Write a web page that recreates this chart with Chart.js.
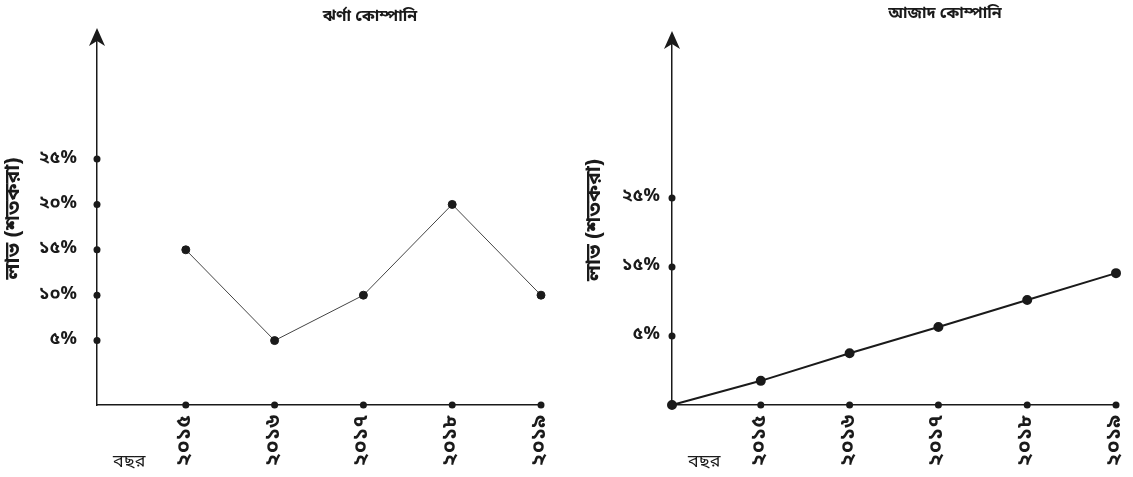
<!DOCTYPE html>
<html>
<head>
<meta charset="utf-8">
<script src="https://cdn.jsdelivr.net/npm/chart.js@4"></script>
<style>
  body { margin: 0; background: #fff; }
  .box { position: absolute; top: 0; height: 477px; }
</style>
</head>
<body>
<div class="box" style="left:0;width:566px"><canvas id="left"></canvas></div>
<div class="box" style="left:566px;width:567px"><canvas id="right"></canvas></div>
<script>
// data
const years = [2015, 2016, 2017, 2018, 2019];
const yearLabels = ["২০১৫", "২০১৬", "২০১৭", "২০১৮", "২০১৯"];
const jharnaValues = [15, 5, 10, 20, 10];
const jharnaTicks = [5, 10, 15, 20, 25];
const jharnaTickLabels = ["৫%", "১০%", "১৫%", "২০%", "২৫%"];

// right panel starts at the origin (2014) and its axis begins below 0
const azadYears = [2014, 2015, 2016, 2017, 2018, 2019];
const azadValues = [-5, -1.5, 2.5, 6.3, 10.2, 14.1];
const azadTicks = [5, 15, 25];
const azadTickLabels = ["৫%", "১৫%", "২৫%"];

const fontFam = "'Noto Sans Bengali', 'Lohit Bengali', 'Noto Sans', sans-serif";
const ink = '#1a1a1a';

// arrow at the top of the y axis, dots on axis ticks, chart title and "বছর"
const decor = {
  id: 'decor',
  afterDraw(chart, args, o) {
    const ctx = chart.ctx, x = chart.scales.x, y = chart.scales.y;
    const ax = x.left, top = chart.chartArea.top, bot = chart.chartArea.bottom;
    ctx.save();
    ctx.fillStyle = ink;
    // arrow head
    ctx.beginPath();
    ctx.moveTo(ax, top - 4);
    ctx.lineTo(ax - 8, top + 14);
    ctx.lineTo(ax, top + 9);
    ctx.lineTo(ax + 8, top + 14);
    ctx.closePath();
    ctx.fill();
    // tick dots
    y.ticks.forEach(t => {
      ctx.beginPath(); ctx.arc(ax, y.getPixelForValue(t.value), 3.5, 0, Math.PI * 2); ctx.fill();
    });
    x.ticks.forEach(t => {
      ctx.beginPath(); ctx.arc(x.getPixelForValue(t.value), bot, 3.5, 0, Math.PI * 2); ctx.fill();
    });
    // title and year label
    ctx.font = 'bold 16px ' + fontFam;
    ctx.textAlign = 'center';
    ctx.textBaseline = 'middle';
    ctx.fillText(o.title, o.titleX, o.titleY);
    ctx.font = '18px ' + fontFam;
    ctx.textAlign = 'left';
    ctx.fillText('বছর', ax + o.yearOffset, 464);
    ctx.restore();
  }
};

function makeChart(id, opts) {
  return new Chart(document.getElementById(id), {
    type: 'line',
    data: {
      datasets: [{
        data: opts.xs.map((v, i) => ({ x: v, y: opts.values[i] })),
        borderColor: opts.lineColor,
        borderWidth: opts.lineWidth,
        pointRadius: 4,
        pointBackgroundColor: ink,
        pointBorderColor: ink,
        clip: false,
        tension: 0
      }]
    },
    options: {
      responsive: true,
      maintainAspectRatio: false,
      animation: false,
      layout: { padding: opts.padding },
      plugins: {
        legend: { display: false },
        tooltip: { enabled: false },
        decor: opts.decor
      },
      scales: {
        x: {
          type: 'linear',
          min: 2014,
          max: 2019,
          grid: { display: false, drawTicks: false },
          border: { display: true, color: ink, width: 1.5 },
          afterFit: s => { s.height = 72; s.paddingLeft = 0; s.paddingRight = 0; },
          afterBuildTicks: s => { s.ticks = years.map(v => ({ value: v })); },
          ticks: {
            minRotation: 90,
            maxRotation: 90,
            padding: 10,
            color: ink,
            font: { family: fontFam, size: 21, weight: 'bold' },
            callback: v => yearLabels[years.indexOf(v)]
          }
        },
        y: {
          min: opts.yMin,
          max: opts.yMax,
          grid: { display: false, drawTicks: false },
          border: { display: true, color: ink, width: 1.5 },
          afterFit: s => { s.width = opts.yWidth; s.paddingTop = 0; s.paddingBottom = 0; },
          afterBuildTicks: s => { s.ticks = opts.ticks.map(v => ({ value: v })); },
          ticks: {
            padding: opts.tickPad,
            color: ink,
            font: { family: fontFam, size: 18, weight: 'bold' },
            callback: v => opts.tickLabels[opts.ticks.indexOf(v)]
          },
          title: {
            display: true,
            text: 'লাভ (শতকরা)',
            color: ink,
            padding: { top: opts.titlePad, bottom: 0 },
            font: { family: fontFam, size: 21, weight: 'bold' }
          }
        }
      }
    },
    plugins: [decor]
  });
}

makeChart('left', {
  xs: years, values: jharnaValues,
  lineColor: '#444', lineWidth: 1,
  yMin: -2.1, yMax: 39, ticks: jharnaTicks, tickLabels: jharnaTickLabels,
  yWidth: 97, tickPad: 20, titlePad: 2,
  padding: { left: 0, right: 25, top: 32, bottom: 0 },
  decor: { title: 'ঝর্ণা কোম্পানি', titleX: 370, titleY: 18, yearOffset: 16 }
});

makeChart('right', {
  xs: azadYears, values: azadValues,
  lineColor: ink, lineWidth: 2,
  yMin: -5, yMax: 48.6, ticks: azadTicks, tickLabels: azadTickLabels,
  yWidth: 106, tickPad: 12, titlePad: 17,
  padding: { left: 0, right: 17, top: 35, bottom: 0 },
  decor: { title: 'আজাদ কোম্পানি', titleX: 379, titleY: 15, yearOffset: 16 }
});
</script>
</body>
</html>
